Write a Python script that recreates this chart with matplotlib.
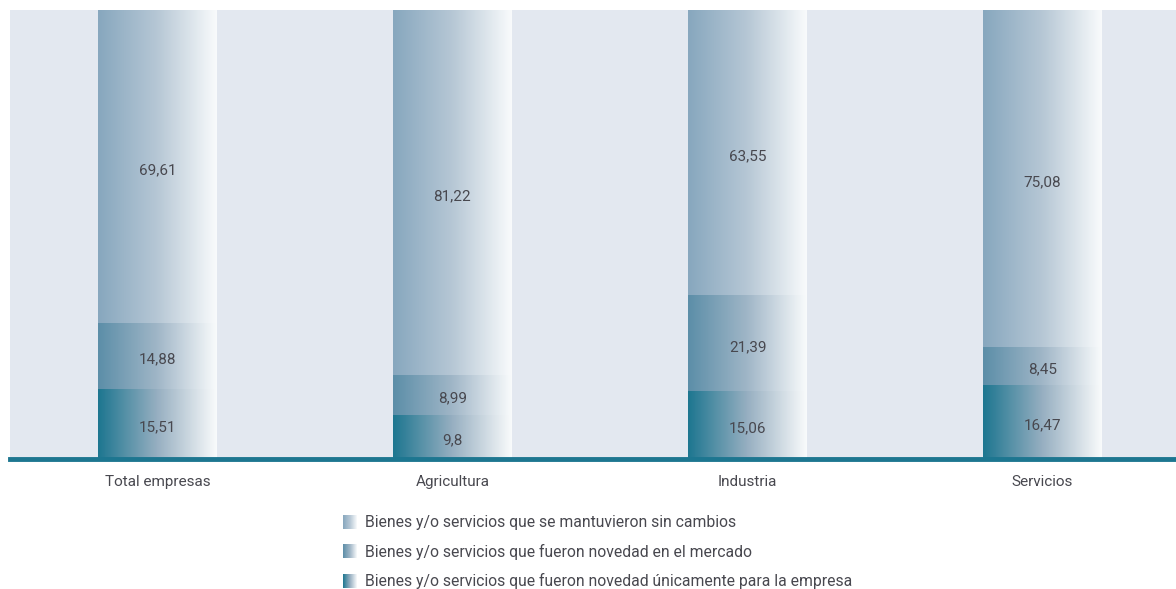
import numpy as np
import matplotlib.pyplot as plt
from matplotlib.colors import LinearSegmentedColormap

# Data
categories = ['Total empresas', 'Agricultura', 'Industria', 'Servicios']
solo_empresa = [15.51, 9.8, 15.06, 16.47]
novedad_mercado = [14.88, 8.99, 21.39, 8.45]
sin_cambios = [69.61, 81.22, 63.55, 75.08]
series_names = [
    'Bienes y/o servicios que se mantuvieron sin cambios',
    'Bienes y/o servicios que fueron novedad en el mercado',
    'Bienes y/o servicios que fueron novedad únicamente para la empresa',
]
series_colors = ['#87a7be', '#5c8ea8', '#1d7690']
series_mid = ['#b6c7d5', '#a0b6c7', '#97afc1']

plt.rcParams['font.family'] = ['Roboto', 'DejaVu Sans']
txt_color = '#48484f'

W, H = 1176, 589
fig = plt.figure(figsize=(W / 100, H / 100), dpi=100)
# axes extends a little past the right edge, like the original
ax = fig.add_axes([10 / W, 1 - 459 / H, 1180 / W, 449 / H])
ax.set_facecolor('#e3e8f0')
for s in ax.spines.values():
    s.set_visible(False)
ax.set_xticks([])
ax.set_yticks([])

grad = np.tile(np.linspace(0, 1, 512), (2, 1))


def gradient_cmap(c, mid):
    return LinearSegmentedColormap.from_list('g', [(0, c), (0.5, mid), (1, '#f9fbfc')])


stack = [solo_empresa, novedad_mercado, sin_cambios]
x = np.arange(len(categories))
width = 0.403
bottom = np.zeros(len(categories))
for vals, col, mid in zip(stack, series_colors[::-1], series_mid[::-1]):
    bars = ax.bar(x, vals, width, bottom=bottom, color='none', edgecolor='none')
    cmap = gradient_cmap(col, mid)
    for b, v, xi, b0 in zip(bars, vals, x, bottom):
        im = ax.imshow(grad, cmap=cmap, aspect='auto', vmin=0, vmax=1,
                       extent=(xi - width / 2, xi + width / 2, b0, b0 + v),
                       interpolation='nearest', zorder=2)
        im.set_clip_path(b)
        ax.text(xi, b0 + v / 2 - 0.8, f'{v:g}'.replace('.', ','),
                ha='center', va='center', fontsize=11, color=txt_color,
                zorder=3)
    bottom = bottom + np.array(vals)

ax.set_xlim(-0.5, 3.5)
ax.set_ylim(0, 100)
ax.axhline(0, color='#1d7690', lw=3.5, zorder=4, clip_on=False)

for xi, c in zip(x, categories):
    ax.text(xi, -5.1, c, ha='center', va='center', fontsize=11,
            color=txt_color)

# Legend drawn in pixel coordinates
lax = fig.add_axes([0, 0, 1, 1], zorder=-1)
lax.axis('off')
for i, (name, col, mid) in enumerate(zip(series_names, series_colors, series_mid)):
    yc = 522 + i * 29.5
    lax.imshow(grad, cmap=gradient_cmap(col, mid), aspect='auto',
               extent=(343, 357, yc + 7, yc - 7), interpolation='nearest')
    lax.text(365, yc, name, ha='left', va='center', fontsize=11.3,
             color=txt_color)
lax.set_xlim(0, W)
lax.set_ylim(H, 0)

fig.savefig('out.png', dpi=100)
